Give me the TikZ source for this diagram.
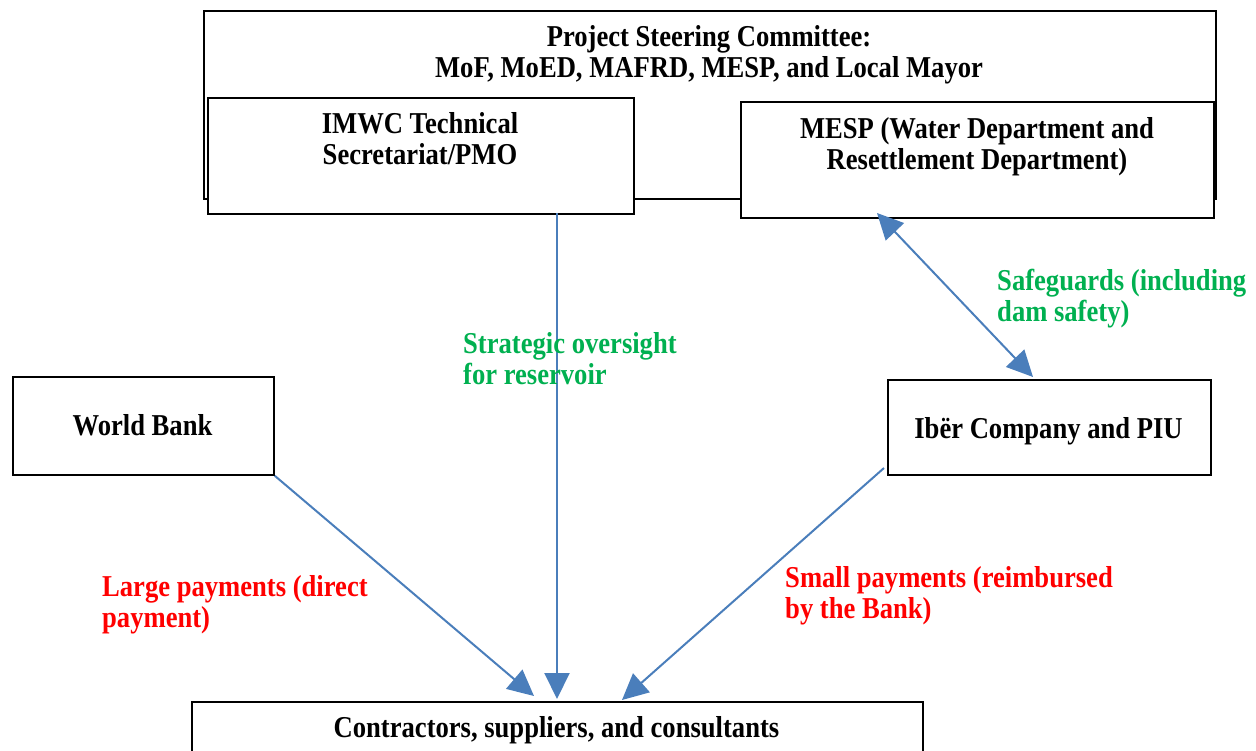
\documentclass[tikz,border=0pt]{standalone}
\usepackage{fontspec}
\setmainfont{Liberation Serif}[FakeStretch=0.878]
\usetikzlibrary{arrows.meta}
\definecolor{arrblue}{HTML}{4A7EBB}
\definecolor{lblgreen}{HTML}{00B050}
\definecolor{lblred}{HTML}{FF0000}
\begin{document}
\begin{tikzpicture}[x=1pt,y=-1pt,
  box/.style={draw=black,line width=1.8pt,fill=white,inner sep=0pt,anchor=north west},
  txt/.style={font=\fontsize{30.3}{31.5}\selectfont\bfseries,inner sep=0pt,align=center,anchor=north},
  ltxt/.style={font=\fontsize{30.3}{31.5}\selectfont\bfseries,inner sep=0pt,align=left,anchor=north west},
  arr/.style={draw=arrblue,line width=2pt,-{Triangle[length=26pt,width=25pt]}},
  darr/.style={draw=arrblue,line width=2pt,{Triangle[length=26pt,width=25pt]}-{Triangle[length=26pt,width=25pt]}}]
\useasboundingbox (0,0) rectangle (1256,751);
% boxes
\node[box,minimum width=1012pt,minimum height=188pt] (psc) at (203,10) {};
\node[box,minimum width=426pt,minimum height=116pt] (imwc) at (207,97) {};
\node[box,minimum width=473pt,minimum height=116pt] (mesp) at (740,101) {};
\node[box,minimum width=261pt,minimum height=98pt] (wb) at (12,376) {};
\node[box,minimum width=323pt,minimum height=95pt] (ibr) at (887,379) {};
\node[box,minimum width=731pt,minimum height=80pt] (contr) at (191,701) {};
% box texts
\node[txt] (pscT) at (709,24) {\strut Project Steering Committee:\\\strut MoF, MoED, MAFRD, MESP, and Local Mayor};
\node[txt] (imwcT) at (420,111) {\strut IMWC Technical\\\strut Secretariat/PMO};
\node[txt] (mespT) at (977,116) {\strut MESP (Water Department and\\\strut Resettlement Department)};
\node[txt] (wbT) at (142.5,413) {\strut World Bank};
\node[txt] (ibrT) at (1048.5,416) {\strut Ibër Company and PIU};
\node[txt] (contrT) at (556.5,715) {\strut Contractors, suppliers, and consultants};
% connector end points
\coordinate (vTop) at (557,213);
\coordinate (vEnd) at (557,699);
\coordinate (wbEnd) at (534,696);
\coordinate (ibrStart) at (884,468);
\coordinate (ibrEnd) at (622,700);
\coordinate (sgTop) at (877,213);
\coordinate (sgBot) at (1033,377);
% connectors
\draw[arr] (vTop) -- (vEnd);
\draw[arr] (wb.south east) -- (wbEnd);
\draw[arr] (ibrStart) -- (ibrEnd);
\draw[darr] (sgTop) -- (sgBot);
% labels
\node[ltxt,text=lblgreen] (lblStrat) at (463,331) {\strut Strategic oversight\\\strut for reservoir};
\node[ltxt,text=lblgreen] (lblSafe) at (997,268) {\strut Safeguards (including\\\strut dam safety)};
\node[ltxt,text=lblred] (lblLarge) at (102,574) {\strut Large payments (direct\\\strut payment)};
\node[ltxt,text=lblred] (lblSmall) at (785,565) {\strut Small payments (reimbursed\\\strut by the Bank)};
\end{tikzpicture}
\end{document}
